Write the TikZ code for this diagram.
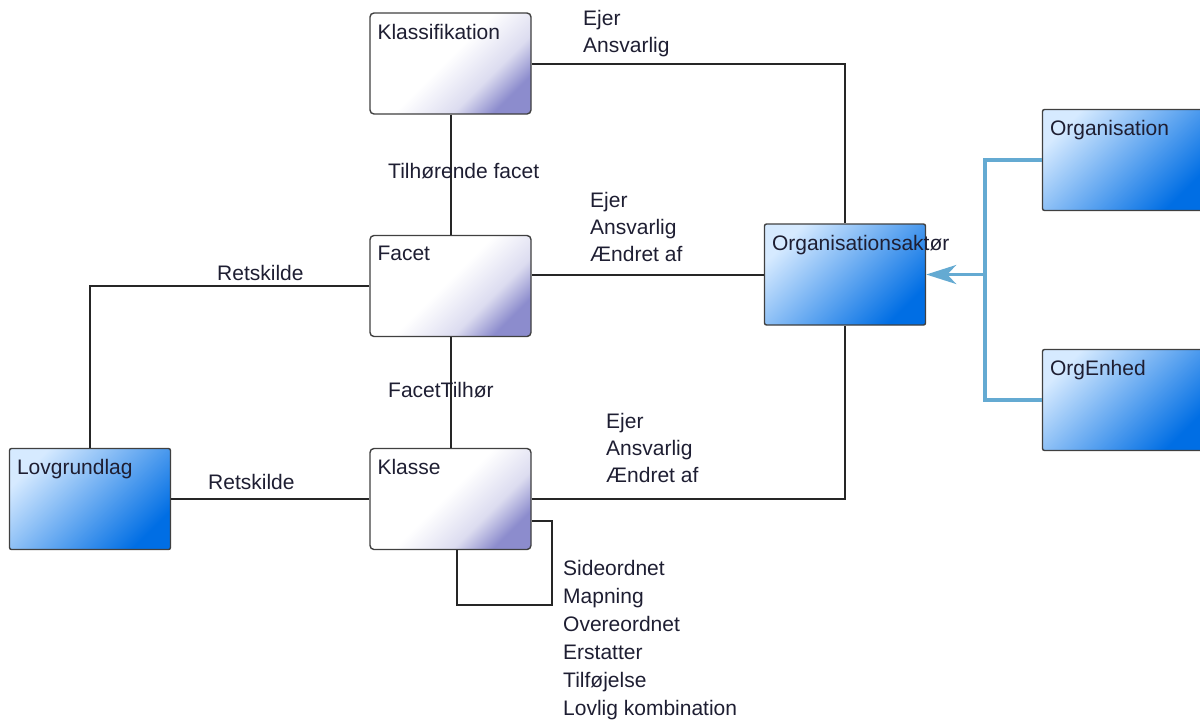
\documentclass[tikz,border=0pt]{standalone}
\usepackage{fontspec}
\setmainfont{Liberation Sans}
\usetikzlibrary{arrows.meta}
\definecolor{boxlight}{RGB}{214,234,255}
\definecolor{boxdeep}{RGB}{0,110,228}
\definecolor{boxlav}{RGB}{140,140,205}
\definecolor{genblue}{RGB}{100,170,210}
\definecolor{txt}{RGB}{30,30,50}
\pgfdeclarehorizontalshading{paleshade}{100bp}{color(0bp)=(white); color(25bp)=(white); color(48bp)=(white); color(64bp)=(boxlav!30); color(75bp)=(boxlav); color(100bp)=(boxlav)}
\pgfdeclarehorizontalshading{blueshade}{100bp}{color(0bp)=(boxlight); color(25bp)=(boxlight); color(75bp)=(boxdeep); color(100bp)=(boxdeep)}
\tikzset{
  umlbox/.style={draw=black!75,line width=1.4pt,minimum width=161pt,minimum height=101pt,inner sep=0pt,shading angle=-45},
  whitebox/.style={umlbox,rounded corners=4pt,shading=paleshade},
  bluebox/.style={umlbox,rounded corners=2pt,shading=blueshade},
  boxtitle/.style={anchor=north west,inner sep=0pt,xshift=8pt,yshift=-11.5pt,text=txt,font=\fontsize{21}{28}\selectfont},
  rolelabel/.style={anchor=north west,inner sep=0pt,align=left,text=txt,font=\fontsize{21}{27}\selectfont},
  assoc/.style={draw=black!85,line width=2pt},
  genline/.style={draw=genblue,line width=3.5pt}
}
\begin{document}
\begin{tikzpicture}[x=1pt,y=-1pt]
    \useasboundingbox (0,0) rectangle (1200,724);
    \node[whitebox,label={[boxtitle]north west:Klassifikation}] (klassifikation) at (450.5,63.5) {};
    \node[whitebox,label={[boxtitle]north west:Facet}] (facet) at (450.5,286) {};
    \node[whitebox,label={[boxtitle]north west:Klasse}] (klasse) at (450.5,499) {};
    \node[bluebox,label={[boxtitle]north west:Lovgrundlag}] (lovgrundlag) at (90,499) {};
    \node[bluebox,label={[boxtitle]north west:Organisationsaktør}] (orgaktor) at (845,274.5) {};
    \node[bluebox,label={[boxtitle]north west:Organisation}] (organisation) at (1123,160) {};
    \node[bluebox,label={[boxtitle]north west:OrgEnhed}] (orgenhed) at (1123,400) {};
    \coordinate (fork) at (985,274.5);

    \draw[assoc] (klassifikation.east) -| (orgaktor.north);
    \draw[assoc] (klassifikation.south) -- (facet.north);
    \draw[assoc] (orgaktor.west) -- (orgaktor.west -| facet.east);
    \draw[assoc] (facet.west) -| (lovgrundlag.north);
    \draw[assoc] (facet.south) -- (klasse.north);
    \draw[assoc] (klasse.east) -| (orgaktor.south);
    \draw[assoc] (lovgrundlag.east) -- (klasse.west);
    \draw[assoc] ([yshift=-22pt]klasse.east) -- ++(20,0) -- ++(0,84) -| ([xshift=6.5pt]klasse.south);
    \draw[genline] (organisation.west) -| (fork) |- (orgenhed.west);
    \draw[genline,-{Stealth[length=30pt,width=19pt,inset=9pt]}] (fork) -- (orgaktor.east);

    \node[rolelabel] (klsrolle) at (583,10) {Ejer\\Ansvarlig};
    \node[rolelabel] (tilhfacet) at (388,163) {Tilhørende facet};
    \node[rolelabel] (facrolle) at (590,192) {Ejer\\Ansvarlig\\Ændret af};
    \node[rolelabel] (facret) at (217,265) {Retskilde};
    \node[rolelabel] (factilh) at (388,382) {FacetTilhør};
    \node[rolelabel] (klrolle) at (606,413) {Ejer\\Ansvarlig\\Ændret af};
    \node[rolelabel] (klret) at (208,474) {Retskilde};
    \node[rolelabel,font=\fontsize{21}{28}\selectfont] (klrel) at (563,560) {Sideordnet\\Mapning\\Overeordnet\\Erstatter\\Tilføjelse\\Lovlig kombination};
\end{tikzpicture}
\end{document}
